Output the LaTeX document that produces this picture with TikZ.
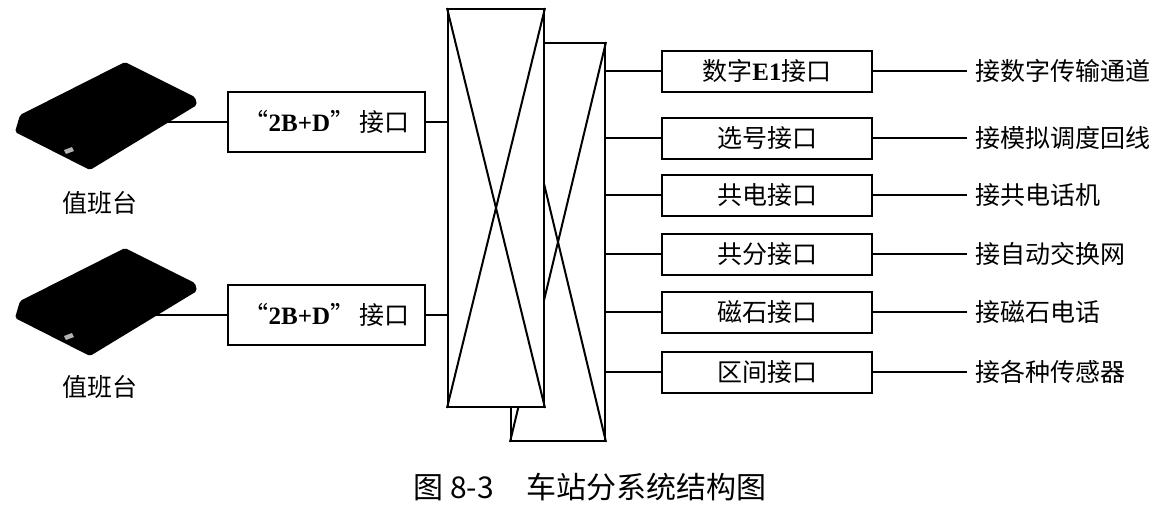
\documentclass[tikz,border=0pt]{standalone}
\usepackage{fontspec}
\setmainfont{Liberation Serif}
\newfontfamily\cjk{Noto Sans CJK SC}
\usetikzlibrary{positioning}
\tikzset{
	wire/.style={line width=2pt},
	ifbox/.style={draw,wire,fill=white,inner sep=0pt,minimum width=197pt,minimum height=60pt,font=\cjk\fontsize{25}{28}\selectfont},
	portbox/.style={ifbox,minimum width=210pt,minimum height=41pt},
	matrixbox/.style={draw,wire,fill=white,inner sep=0pt,minimum height=398pt},
	txt/.style={inner sep=0pt,inner xsep=8pt,font=\cjk\fontsize{25}{28}\selectfont}
}
\newcommand{\drawconsole}[1]{
	\begin{scope}[shift={(0,#1)}]
		\fill[black,rounded corners=2pt] (20,115) -- (125,62) -- (195,97) -- (197,105) -- (90,170) -- (15,132) -- cycle;
		\fill[gray!60] (64,150) -- (72,147) -- (74,151) -- (66,154) -- cycle;
	\end{scope}
}

\begin{document}
\begin{tikzpicture}[x=1pt,y=-1pt]
	\useasboundingbox (0,0) rectangle (1174,504);
	% consoles
	\drawconsole{0}
	\drawconsole{186}
	\node[txt] (duty1) at (100,203) {值班台};
	\node[txt] (duty2) at (100,387) {值班台};
	\node[ifbox] (if1) at (326.5,122) {“{\rmfamily\bfseries 2B+D}”\,接口};
	\node[ifbox] (if2) at (326.5,315) {“{\rmfamily\bfseries 2B+D}”\,接口};
	\coordinate (con1) at ([xshift=-73pt]if1.west);
	\coordinate (con2) at ([xshift=-73pt]if2.west);
	\draw[wire] (con1) -- (if1.west);
	\draw[wire] (con2) -- (if2.west);
	
	% switching matrix
	\node[matrixbox,minimum width=94pt] (back) at (558,242) {};
	\draw[wire] (back.north west) -- (back.south east) (back.north east) -- (back.south west);
	\node[matrixbox,minimum width=96pt] (front) at (496,208) {};
	\draw[wire] (front.north west) -- (front.south east) (front.north east) -- (front.south west);
	\draw[wire] (if1.east) -- (if1.east -| front.west);
	\draw[wire] (if2.east) -- (if2.east -| front.west);
	
	% interfaces
	\foreach \y/\name/\port/\dest in {
		71/p1/{数字{\rmfamily\bfseries E1}接口}/接数字传输通道,
		138/p2/选号接口/接模拟调度回线,
		195/p3/共电接口/接共电话机,
		254/p4/共分接口/接自动交换网,
		312/p5/磁石接口/接磁石电话,
		372/p6/区间接口/接各种传感器} {
		\node[portbox] (\name) at (767,\y) {\port};
		\node[txt,anchor=west] (\name d) at (967,\y) {\dest};
		\draw[wire] (back.east |- \name.west) -- (\name.west);
		\draw[wire] (\name.east) -- (\name d.west);
	}
	
	\node[inner sep=0pt,font=\cjk\fontsize{30}{32}\selectfont] (cap) at (590,487) {图 8-3\hspace{1.1em}车站分系统结构图};
\end{tikzpicture}
\end{document}
